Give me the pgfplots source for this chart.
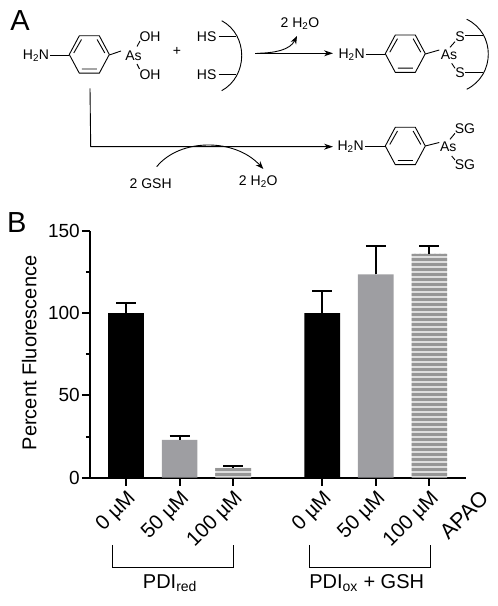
\documentclass[border=0pt]{standalone}
\usepackage{pgfplots}
\pgfplotsset{compat=1.18}
\usepackage{fontspec}
\setmainfont{Liberation Sans}
\usetikzlibrary{patterns,arrows.meta}
\pgfdeclarepatternformonly{hstripes}{\pgfpoint{-1pt}{-1pt}}{\pgfpoint{6pt}{6pt}}{\pgfpoint{5pt}{5pt}}{%
  \pgfpathrectangle{\pgfpoint{-1pt}{0pt}}{\pgfpoint{7pt}{3.4pt}}%
  \pgfusepath{fill}}
\definecolor{bargray}{HTML}{9E9EA2}
\definecolor{stripegray}{HTML}{969696}
\definecolor{stripelight}{HTML}{DEDEDE}
\newcommand{\fs}[1]{\fontsize{#1}{#1}\selectfont}
\newcommand{\ring}[2]{%
  \begin{scope}[shift={(#1,#2)}]
    \draw[line width=0.9pt,line join=round] (-20,0)--(-10,-18.7)--(10,-18.7)--(20,0)--(10,18.7)--(-10,18.7)--cycle;
    \draw[line width=0.9pt] (-15.5,-1.5)--(-7.8,-15) (15.5,-1.5)--(7.8,-15) (-7.5,14.5)--(7.5,14.5);
  \end{scope}}
\begin{document}
\begin{tikzpicture}[x=1pt,y=1pt]
\useasboundingbox (0,0) rectangle (498,606);
\begin{axis}[
  at={(90pt,128.3pt)}, anchor=south west,
  scale only axis, width=375.6pt, height=247pt,
  axis lines=left, axis line style={-,line width=2pt},
  xmin=-0.672, xmax=6.336, ymin=0, ymax=150,
  xtick={0,1,2,3.66,4.66,5.66},
  xticklabels={0 µM,50 µM,100 µM,0 µM,50 µM,100 µM},
  ytick={0,50,100,150},
  minor y tick num=1, minor x tick num=0,
  tick align=outside,
  major tick length=8pt, minor tick length=4pt,
  every tick/.style={black,line width=2pt},
  tick label style={font=\fs{19}},
  /pgf/number format/assume math mode=true,
  xticklabel style={font=\fs{20.5},rotate=45,anchor=north east,inner sep=1pt,xshift=-1pt,yshift=-1pt},
  yticklabel style={inner sep=2pt},
  ylabel={Percent Fluorescence},
  every axis y label/.style={at={(axis description cs:-0.1616,0.505)},rotate=90,anchor=center,font=\fs{20}},
  ybar, bar width=35.7pt, bar shift=0pt,
  error bars/y dir=plus, error bars/y explicit,
  error bars/error bar style={black,line width=2pt},
  error bars/error mark options={rotate=90,mark size=10pt,line width=2pt,black},
  clip=false,
]
\addplot[fill=black,draw=none] coordinates {(0,100) +- (0,6) (3.66,100) +- (0,13.3)};
\addplot[fill=bargray,draw=none] coordinates {(1,23) +- (0,2.5) (4.66,123.5) +- (0,17)};
\addplot[fill=stripelight,draw=none,
  postaction={pattern=hstripes,pattern color=stripegray}]
  coordinates {(2,6) +- (0,1.3) (5.66,136) +- (0,4.5)};
\end{axis}
\begin{scope}[x=1pt,y=-1pt,yshift=606pt]
  \node[font=\fs{29}] at (20,21) {A};
  \node[font=\fs{29}] at (16.7,223) {B};
  % top scheme
  \node[font=\fs{14}] at (36,56) {H\textsubscript{2}N};
  \draw[line width=0.9pt] (50,55)--(69.3,55);
  \ring{89.3}{54.5}
  \draw[line width=0.9pt] (109.3,55)--(121,51);
  \node[font=\fs{14}] at (133.5,56) {As};
  \node[font=\fs{14}] at (150,36.7) {OH};
  \node[font=\fs{14}] at (150,74.7) {OH};
  \draw[line width=0.9pt] (137,46.5)--(140,41) (137,64)--(139.5,69);
  \node[font=\fs{14}] at (177,51.7) {+};
  \node[font=\fs{14}] at (206.7,36.7) {HS};
  \node[font=\fs{14}] at (206.7,74.5) {HS};
  \draw[line width=0.9pt] (218.5,36.7)--(236,36.7) (218.5,74)--(236,74);
  \draw[line width=0.9pt] (221.7,20.7) .. controls (248.4,35) and (248.4,76) .. (221.7,90.7);
  \node[font=\fs{14}] at (300,24) {2 H\textsubscript{2}O};
  \draw[line width=0.9pt,-{Stealth[length=9pt,width=6pt]}] (255,53.3)--(333,53.3);
  \draw[line width=0.9pt,-{Stealth[length=8pt,width=6pt]}] (257,53.3) .. controls (275,53) and (290,50) .. (297,36);
  \node[font=\fs{14}] at (351.7,55) {H\textsubscript{2}N};
  \draw[line width=0.9pt] (365.5,54)--(385.3,54);
  \ring{405.3}{53.7}
  \draw[line width=0.9pt] (425.3,54)--(439.3,50);
  \node[font=\fs{14}] at (449,55) {As};
  \node[font=\fs{14}] at (460,36.7) {S};
  \node[font=\fs{14}] at (460,72.7) {S};
  \draw[line width=0.9pt] (450,47.3)--(455,41.7) (451.7,63.3)--(455,68.3);
  \draw[line width=0.9pt] (465,35)--(483.3,35) (465,72.7)--(483.3,72.7);
  \draw[line width=0.9pt] (466.7,19.3) .. controls (495.5,33) and (495.5,75) .. (466.7,89.3);
  % bottom scheme
  \draw[line width=0.9pt,-{Stealth[length=9pt,width=6pt]}] (90,88.3)--(90.7,146.7)--(333,146.7);
  \draw[line width=0.9pt,-{Stealth[length=8pt,width=6pt]}] (156.7,166.7) .. controls (180,138) and (235,138) .. (263.3,169);
  \node[font=\fs{14}] at (150.7,184) {2 GSH};
  \node[font=\fs{14}] at (258.3,181.7) {2 H\textsubscript{2}O};
  \node[font=\fs{14}] at (350.7,146.7) {H\textsubscript{2}N};
  \draw[line width=0.9pt] (365,146)--(385.3,146);
  \ring{405.3}{146}
  \draw[line width=0.9pt] (425.3,146)--(439.3,142.5);
  \node[font=\fs{14}] at (448.3,146.7) {As};
  \node[font=\fs{14}] at (465,128.3) {SG};
  \node[font=\fs{14}] at (465,165) {SG};
  \draw[line width=0.9pt] (450,139.3)--(455,133.3) (451.7,156)--(455,160);
  % brackets
  \draw[line width=0.9pt] (112.3,545)--(112.3,567.7)--(233.7,567.7)--(233.7,545);
  \draw[line width=0.9pt] (309.7,545)--(309.7,567)--(430.7,567)--(430.7,545);
  \node[font=\fs{20}] at (170,583) {PDI\textsubscript{red}};
  \node[font=\fs{20}] at (366.7,583) {PDI\textsubscript{ox} + GSH};
  \node[font=\fs{21.5},rotate=45,anchor=center] at (464,515) {APAO};
\end{scope}
\end{tikzpicture}
\end{document}
